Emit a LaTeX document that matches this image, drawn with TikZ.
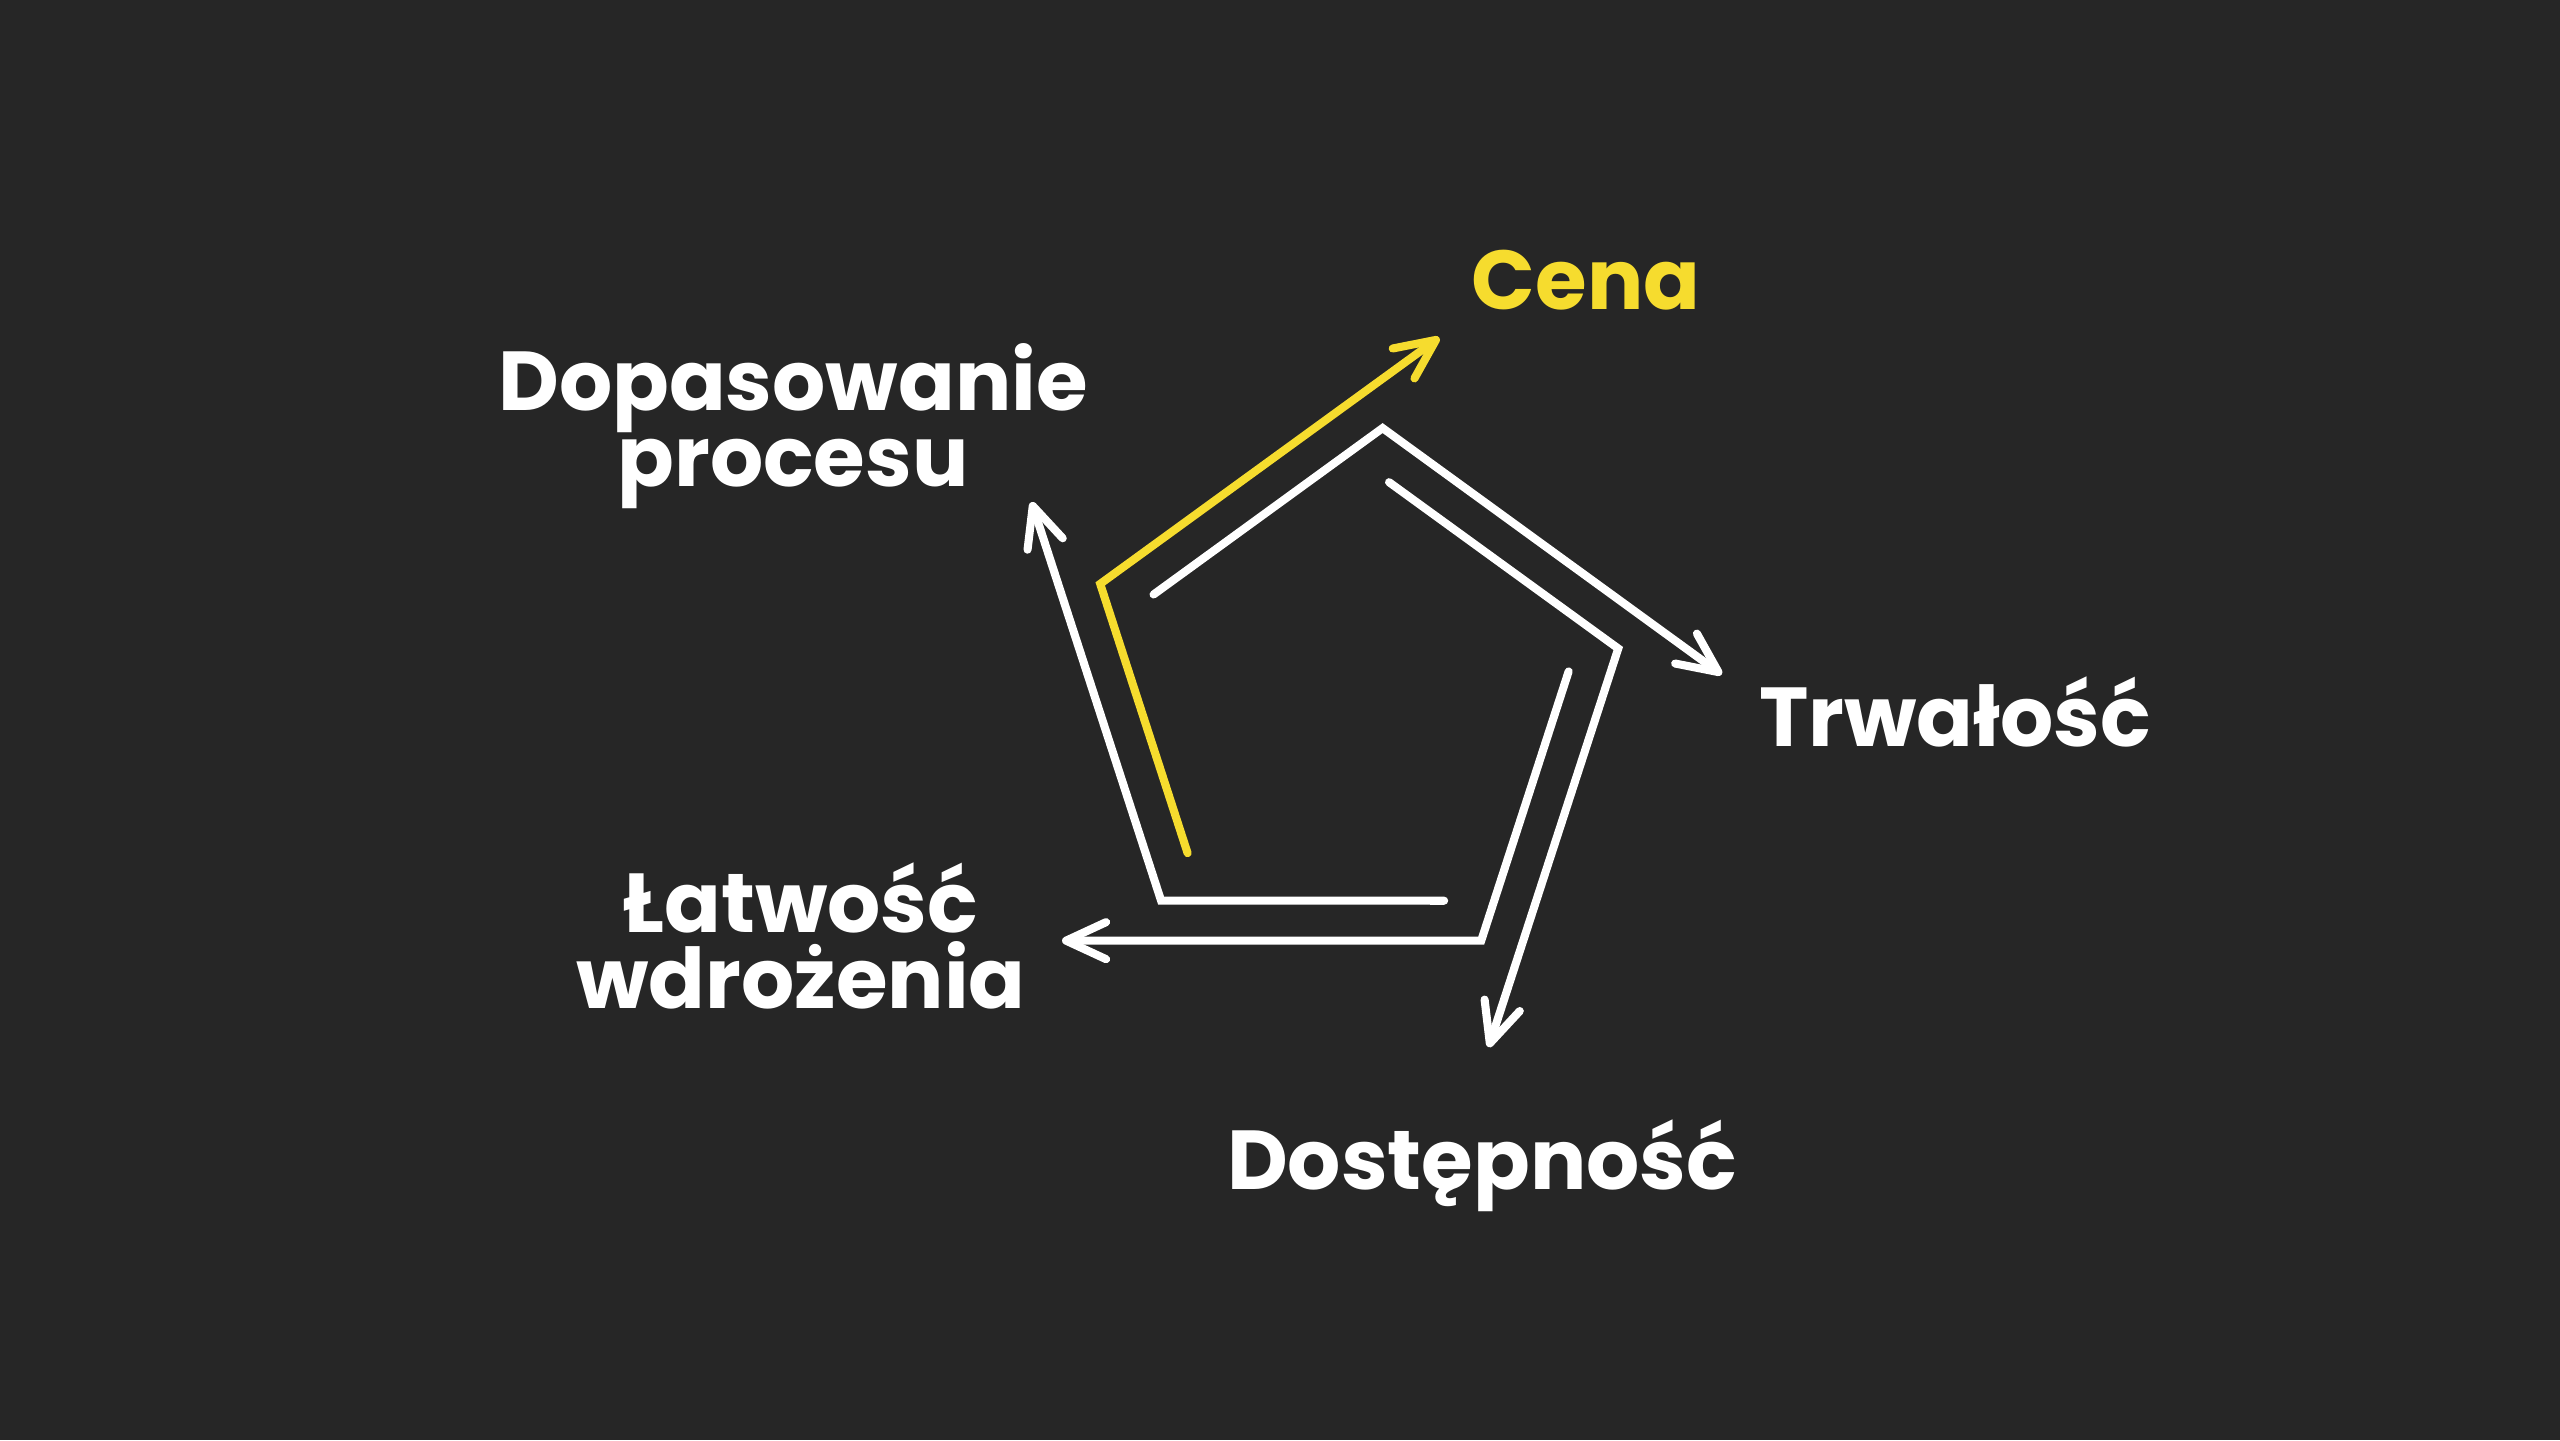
\documentclass[tikz,border=0pt]{standalone}
\usepackage{fontspec}
\setmainfont{Poppins}
\usetikzlibrary{calc}
\usetikzlibrary{arrows.meta}
\definecolor{bgdark}{RGB}{38,38,38}
\definecolor{cenayellow}{RGB}{246,220,46}

\begin{document}
\begin{tikzpicture}[
linkline/.style={line width=2.3pt, line cap=round, line join=miter,
-{Straight Barb[length=4mm, width=3.7mm, round]}},
labelnode/.style={font=\bfseries\fontsize{23.8}{21.8}\selectfont, text=white,
align=center, anchor=base, inner sep=0pt}
]

%Background
\fill[bgdark] (0,0) rectangle (25.6,14.4);
\useasboundingbox (0,0) rectangle (25.6,14.4);

%Coordinates
\coordinate (center) at (13.486,7.396);
\coordinate (outer0) at ($ (center) + (90:2.97) $);
\coordinate (outer1) at ($ (center) + (162:2.97) $);
\coordinate (outer2) at ($ (center) + (234:2.97) $);
\coordinate (outer3) at ($ (center) + (306:2.97) $);
\coordinate (outer4) at ($ (center) + (18:2.97) $);
\coordinate (inner0) at ($ (center) + (90:2.476) $);
\coordinate (inner1) at ($ (center) + (162:2.476) $);
\coordinate (inner2) at ($ (center) + (234:2.476) $);
\coordinate (inner3) at ($ (center) + (306:2.476) $);
\coordinate (inner4) at ($ (center) + (18:2.476) $);

\coordinate (cena1) at ($ (inner2)!0.5cm!(inner1) $);
\coordinate (cena2) at (intersection of inner2--inner1 and outer1--outer0);
\coordinate (cena3) at ($ (outer0)!-1.12cm!(outer1) $);
\coordinate (trwalosc1) at ($ (inner1)!0.5cm!(inner0) $);
\coordinate (trwalosc2) at (intersection of inner1--inner0 and outer0--outer4);
\coordinate (trwalosc3) at ($ (outer4)!-1.12cm!(outer0) $);
\coordinate (dostepnosc1) at ($ (inner0)!0.5cm!(inner4) $);
\coordinate (dostepnosc2) at (intersection of inner0--inner4 and outer4--outer3);
\coordinate (dostepnosc3) at ($ (outer3)!-1.12cm!(outer4) $);
\coordinate (latwosc1) at ($ (inner4)!0.5cm!(inner3) $);
\coordinate (latwosc2) at (intersection of inner4--inner3 and outer3--outer2);
\coordinate (latwosc3) at ($ (outer2)!-1.12cm!(outer3) $);
\coordinate (dopasowanie1) at ($ (inner3)!0.5cm!(inner2) $);
\coordinate (dopasowanie2) at (intersection of inner3--inner2 and outer2--outer1);
\coordinate (dopasowanie3) at ($ (outer1)!-1.12cm!(outer2) $);

%Lines
\draw[linkline, cenayellow] (cena1) -- (cena2) -- (cena3);
\draw[linkline, white] (trwalosc1) -- (trwalosc2) -- (trwalosc3);
\draw[linkline, white] (dostepnosc1) -- (dostepnosc2) -- (dostepnosc3);
\draw[linkline, white] (latwosc1) -- (latwosc2) -- (latwosc3);
\draw[linkline, white] (dopasowanie1) -- (dopasowanie2) -- (dopasowanie3);

%Nodes
\node[labelnode, text=cenayellow] (cena) at (15.86,11.30) {Cena};
\node[labelnode] (dopasowanie) at (7.93,9.53) {Dopasowanie\\procesu};
\node[labelnode] (trwalosc) at (19.55,6.93) {Trwałość};
\node[labelnode] (latwosc) at (8.01,4.31) {Łatwość\\wdrożenia};
\node[labelnode] (dostepnosc) at (14.82,2.51) {Dostępność};

\end{tikzpicture}
\end{document}
